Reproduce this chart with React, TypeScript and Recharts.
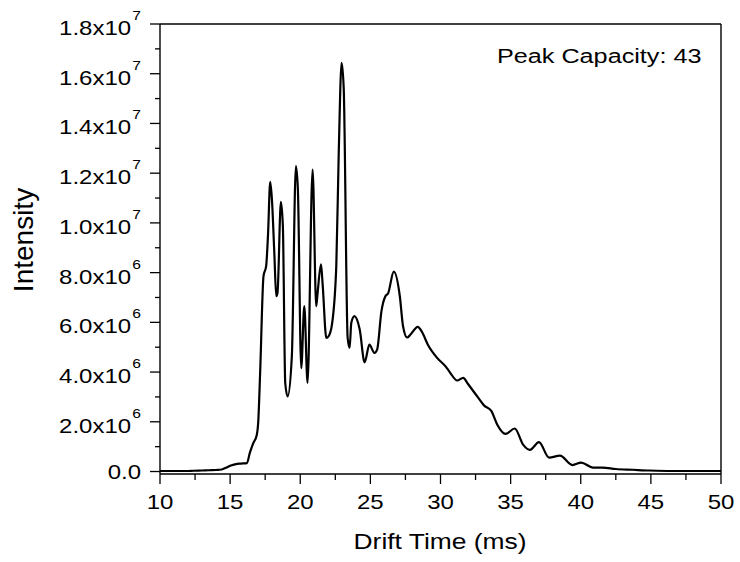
import React from 'react';
import { LineChart, Line, XAxis, YAxis, ReferenceLine, Customized } from 'recharts';

// drift time (ms) and intensity
const driftTime = [
  10.0, 11.0, 12.0, 12.4, 13.0, 13.5, 14.0, 14.4, 14.7, 15.0, 15.5, 15.8, 16.2, 16.4, 16.65, 16.9,
  17.0, 17.14, 17.38, 17.57, 17.7, 17.86, 17.98, 18.15, 18.29, 18.38, 18.62, 18.76, 18.93, 19.1,
  19.4, 19.69, 19.83, 20.07, 20.29, 20.52, 20.88, 21.14, 21.24, 21.48, 21.6, 21.86, 22.02, 22.26,
  22.57, 22.74, 22.95, 23.1, 23.38, 23.52, 23.64, 23.86, 24.24, 24.59, 24.93, 25.29, 25.48, 25.79,
  26.07, 26.26, 26.67, 27.1, 27.33, 27.62, 27.86, 28.38, 28.69, 29.1, 29.76, 30.36, 30.67, 31.19,
  31.62, 31.95, 32.62, 33.1, 33.62, 34.05, 34.64, 35.29, 35.9, 36.38, 37.02, 37.74, 38.52, 39.4,
  40.03, 40.86, 41.55, 42.5, 43.7, 44.9, 46.5, 48.0, 50.0,
];
const intensity = [
  0.02e6, 0.02e6, 0.02e6, 0.03e6, 0.04e6, 0.05e6, 0.06e6, 0.08e6, 0.15e6, 0.23e6, 0.31e6, 0.32e6,
  0.34e6, 0.74e6, 1.14e6, 1.47e6, 1.95e6, 3.97e6, 7.86e6, 8.27e6, 9.5e6, 11.65e6, 10.95e6, 8.8e6,
  7.05e6, 7.2e6, 10.85e6, 9.88e6, 3.56e6, 3.02e6, 4.63e6, 12.28e6, 11.36e6, 4.16e6, 6.65e6, 3.56e6,
  12.14e6, 6.65e6, 7.2e6, 8.33e6, 7.5e6, 5.37e6, 5.44e6, 5.91e6, 8.27e6, 12.7e6, 16.44e6, 15.4e6,
  5.37e6, 4.97e6, 5.98e6, 6.25e6, 5.71e6, 4.39e6, 5.1e6, 4.77e6, 4.9e6, 6.45e6, 7.05e6, 7.16e6,
  8.04e6, 7.05e6, 5.84e6, 5.39e6, 5.51e6, 5.82e6, 5.6e6, 5.1e6, 4.57e6, 4.23e6, 3.99e6, 3.66e6,
  3.77e6, 3.53e6, 3.02e6, 2.66e6, 2.44e6, 1.88e6, 1.51e6, 1.73e6, 1.07e6, 0.87e6, 1.18e6, 0.56e6,
  0.64e6, 0.26e6, 0.36e6, 0.16e6, 0.16e6, 0.1e6, 0.07e6, 0.04e6, 0.02e6, 0.02e6, 0.02e6,
];

const xMajorTicks = [10, 15, 20, 25, 30, 35, 40, 45, 50];
const xMinorTicks = [12.5, 17.5, 22.5, 27.5, 32.5, 37.5, 42.5, 47.5];
const yMajorTicks = [0, 2e6, 4e6, 6e6, 8e6, 1e7, 1.2e7, 1.4e7, 1.6e7, 1.8e7];
const yMinorTicks = [1e6, 3e6, 5e6, 7e6, 9e6, 1.1e7, 1.3e7, 1.5e7, 1.7e7];
const xDomain = [10, 50];
const yDomain = [-1e5, 1.8e7];

const xTitle = 'Drift Time (ms)';
const yTitle = 'Intensity';
const note = 'Peak Capacity: 43';

const data = driftTime.map((t, i) => ({ t, v: intensity[i] }));

const FONT = '"Liberation Sans", Arial, sans-serif';
const frame = { stroke: '#000', strokeWidth: 1.4 };

const XTick = (props: any) => {
  const { x, y, payload } = props;
  const major = xMajorTicks.includes(payload.value);
  return (
    <g transform={`translate(${x},${y})`}>
      <line x1={0} y1={0} x2={0} y2={major ? 10 : 6} stroke="#000" strokeWidth={1.3} />
      {major && (
        <text transform="scale(1.2,1)" x={0} y={35} textAnchor="middle" fontSize={20} fontFamily={FONT} fill="#000">
          {payload.value}
        </text>
      )}
    </g>
  );
};

const YTick = (props: any) => {
  const { x, y, payload } = props;
  const v = payload.value;
  const major = yMajorTicks.includes(v);
  let label = null;
  if (major) {
    if (v === 0) {
      label = (
        <text transform="scale(1.2,1)" x={-19 / 1.2} y={7} textAnchor="end" fontSize={20} fontFamily={FONT} fill="#000">
          0.0
        </text>
      );
    } else {
      const exp = Math.floor(Math.log10(v) + 1e-9);
      const mant = (v / Math.pow(10, exp)).toFixed(1);
      label = (
        <text transform="scale(1.2,1)" x={-19 / 1.2} y={11} textAnchor="end" fontSize={20} fontFamily={FONT} fill="#000">
          {mant}x10
          <tspan dx={1} dy={-15} fontSize={13}>{exp}</tspan>
        </text>
      );
    }
  }
  return (
    <g transform={`translate(${x},${y})`}>
      <line x1={major ? -10 : -5} y1={0} x2={0} y2={0} stroke="#000" strokeWidth={1.3} />
      {label}
    </g>
  );
};

const Titles = () => (
  <g>
    <text transform="translate(440,549) scale(1.2,1)" textAnchor="middle" fontSize={22} fontFamily={FONT} fill="#000">
      {xTitle}
    </text>
    <text transform="translate(33,240) rotate(-90)" textAnchor="middle" fontSize={28} fontFamily={FONT} fill="#000">
      {yTitle}
    </text>
    <text transform="translate(497,63) scale(1.2,1)" textAnchor="start" fontSize={21} fontFamily={FONT} fill="#000">
      {note}
    </text>
  </g>
);

export default function App() {
  return (
    <div style={{ position: 'absolute', left: 0, top: 0, background: '#fff' }}>
      <LineChart width={740} height={562} data={data} margin={{ top: 24, right: 19, bottom: 48, left: 10 }}>
        <XAxis
          dataKey="t"
          type="number"
          domain={xDomain}
          ticks={[...xMajorTicks, ...xMinorTicks].sort((a, b) => a - b)}
          interval={0}
          height={40}
          tickSize={0}
          tickMargin={0}
          tickLine={false}
          axisLine={false}
          tick={<XTick />}
          allowDataOverflow
        />
        <YAxis
          type="number"
          domain={yDomain}
          ticks={[...yMajorTicks, ...yMinorTicks].sort((a, b) => a - b)}
          interval={0}
          width={150}
          tickSize={0}
          tickMargin={0}
          tickLine={false}
          axisLine={false}
          tick={<YTick />}
          allowDataOverflow
        />
        <ReferenceLine x={xDomain[0]} {...frame} ifOverflow="visible" />
        <ReferenceLine x={xDomain[1]} {...frame} ifOverflow="visible" />
        <ReferenceLine y={yDomain[0]} {...frame} ifOverflow="visible" />
        <ReferenceLine y={yDomain[1]} {...frame} ifOverflow="visible" />
        <Line
          type="monotone"
          dataKey="v"
          stroke="#000"
          strokeWidth={2.2}
          dot={false}
          isAnimationActive={false}
        />
        <Customized component={Titles} />
      </LineChart>
    </div>
  );
}
